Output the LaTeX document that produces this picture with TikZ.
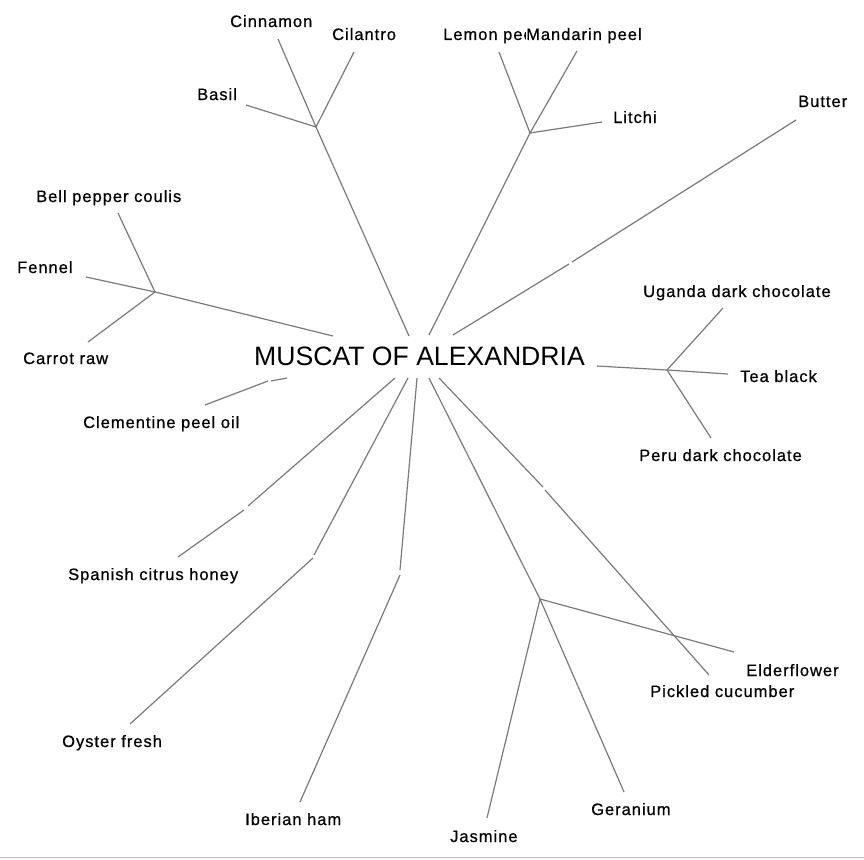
\documentclass[tikz,border=0pt]{standalone}
\usepackage{fontspec}
\newfontfamily\lblfont[LetterSpace=6,FakeBold=0.6]{Liberation Sans}
\newfontfamily\ttlfont{Liberation Sans}
\definecolor{edgegray}{HTML}{7A7A7A}
\definecolor{rulegray}{HTML}{C0C0C0}
\tikzset{
  lbl/.style={anchor=base west, inner sep=0pt, font=\lblfont\fontsize{16.5}{19}\selectfont, text=black},
  lblw/.style={lbl, fill=white, inner ysep=1pt},
  ttl/.style={anchor=base west, inner sep=0pt, font=\ttlfont\fontsize{26.6}{30}\selectfont, text=black},
  edge/.style={draw=edgegray, line width=1.2pt},
}
\begin{document}
\begin{tikzpicture}[x=1pt,y=-1pt]
\useasboundingbox[fill=white] (0,0) rectangle (864,859);
\draw[rulegray, line width=1.4pt] (0,857.5) -- (864,857.5);

% title
\node[ttl] (title) at (254,365) {MUSCAT OF ALEXANDRIA};

% labels
\node[lbl] (cinnamon) at (230,27) {Cinnamon};
\node[lbl] (cilantro) at (332,40) {Cilantro};
\node[lbl] (basil) at (197,100) {Basil};
\node[lbl] (lemon) at (443,40) {Lemon peel};
\node[lblw] (mandarin) at (526,40) {Mandarin peel};
\node[lbl] (litchi) at (613,123) {Litchi};
\node[lbl] (butter) at (798,107) {Butter};
\node[lbl] (bell) at (36,202) {Bell pepper coulis};
\node[lbl] (fennel) at (17,273) {Fennel};
\node[lbl] (carrot) at (23,364) {Carrot raw};
\node[lbl] (clem) at (83,428) {Clementine peel oil};
\node[lbl] (uganda) at (643,297) {Uganda dark chocolate};
\node[lbl] (tea) at (740,382) {Tea black};
\node[lbl] (peru) at (639,461) {Peru dark chocolate};
\node[lbl] (honey) at (68,580) {Spanish citrus honey};
\node[lbl] (oyster) at (62,747) {Oyster fresh};
\node[lbl] (ham) at (245,825) {Iberian ham};
\node[lbl] (jasmine) at (450,842) {Jasmine};
\node[lbl] (geranium) at (591,815) {Geranium};
\node[lbl] (elder) at (746,676) {Elderflower};
\node[lbl] (pickled) at (650,697) {Pickled cucumber};

% internal nodes and free ends
\coordinate (herbN) at (316,127);
\coordinate (herbR) at (409,336);
\coordinate (basilE) at (246,105);
\coordinate (cinnE) at (278,39);
\coordinate (cilE) at (354,52);

\coordinate (citN) at (530,133);
\coordinate (citR) at (429,335);
\coordinate (lemonE) at (499,52);
\coordinate (mandE) at (577,51);
\coordinate (litE) at (602,122);

\coordinate (butR) at (453,335);
\coordinate (butA) at (569,264);
\coordinate (butB) at (572,262);
\coordinate (butE) at (796,120);

\coordinate (vegN) at (155,292);
\coordinate (vegR) at (333,336);
\coordinate (bellE) at (118,213);
\coordinate (fenE) at (86,277);
\coordinate (carE) at (88,342);

\coordinate (clemR) at (287,378);
\coordinate (clemA) at (271,381);
\coordinate (clemB) at (268,381);
\coordinate (clemE) at (205,405);

\coordinate (honR) at (395,378);
\coordinate (honA) at (248,506);
\coordinate (honB) at (244,510);
\coordinate (honE) at (178,557);

\coordinate (oysR) at (408,378);
\coordinate (oysA) at (314,555);
\coordinate (oysB) at (313,558);
\coordinate (oysE) at (130,724);

\coordinate (hamR) at (417,378);
\coordinate (hamA) at (400,570);
\coordinate (hamB) at (400,575);
\coordinate (hamE) at (300,802);

\coordinate (florN) at (540,599);
\coordinate (florR) at (429,378);
\coordinate (jasE) at (487,818);
\coordinate (gerE) at (624,792);
\coordinate (eldE) at (734,652);

\coordinate (picR) at (439,378);
\coordinate (picA) at (543,487);
\coordinate (picB) at (545,490);
\coordinate (picE) at (709,675);

\coordinate (chocN) at (667,370);
\coordinate (chocR) at (597,366);
\coordinate (ugE) at (723,308);
\coordinate (teaE) at (728,374);
\coordinate (peruE) at (711,438);

% connectors
\draw[edge] (herbR) -- (herbN);
\draw[edge] (herbN) -- (basilE);
\draw[edge] (herbN) -- (cinnE);
\draw[edge] (herbN) -- (cilE);

\draw[edge] (citR) -- (citN);
\draw[edge] (citN) -- (lemonE);
\draw[edge] (citN) -- (mandE);
\draw[edge] (citN) -- (litE);

\draw[edge] (butR) -- (butA);
\draw[edge] (butB) -- (butE);

\draw[edge] (vegR) -- (vegN);
\draw[edge] (vegN) -- (bellE);
\draw[edge] (vegN) -- (fenE);
\draw[edge] (vegN) -- (carE);

\draw[edge] (clemR) -- (clemA);
\draw[edge] (clemB) -- (clemE);

\draw[edge] (honR) -- (honA);
\draw[edge] (honB) -- (honE);

\draw[edge] (oysR) -- (oysA);
\draw[edge] (oysB) -- (oysE);

\draw[edge] (hamR) -- (hamA);
\draw[edge] (hamB) -- (hamE);

\draw[edge] (florR) -- (florN);
\draw[edge] (florN) -- (jasE);
\draw[edge] (florN) -- (gerE);
\draw[edge] (florN) -- (eldE);

\draw[edge] (picR) -- (picA);
\draw[edge] (picB) -- (picE);

\draw[edge] (chocR) -- (chocN);
\draw[edge] (chocN) -- (ugE);
\draw[edge] (chocN) -- (teaE);
\draw[edge] (chocN) -- (peruE);
\end{tikzpicture}
\end{document}
